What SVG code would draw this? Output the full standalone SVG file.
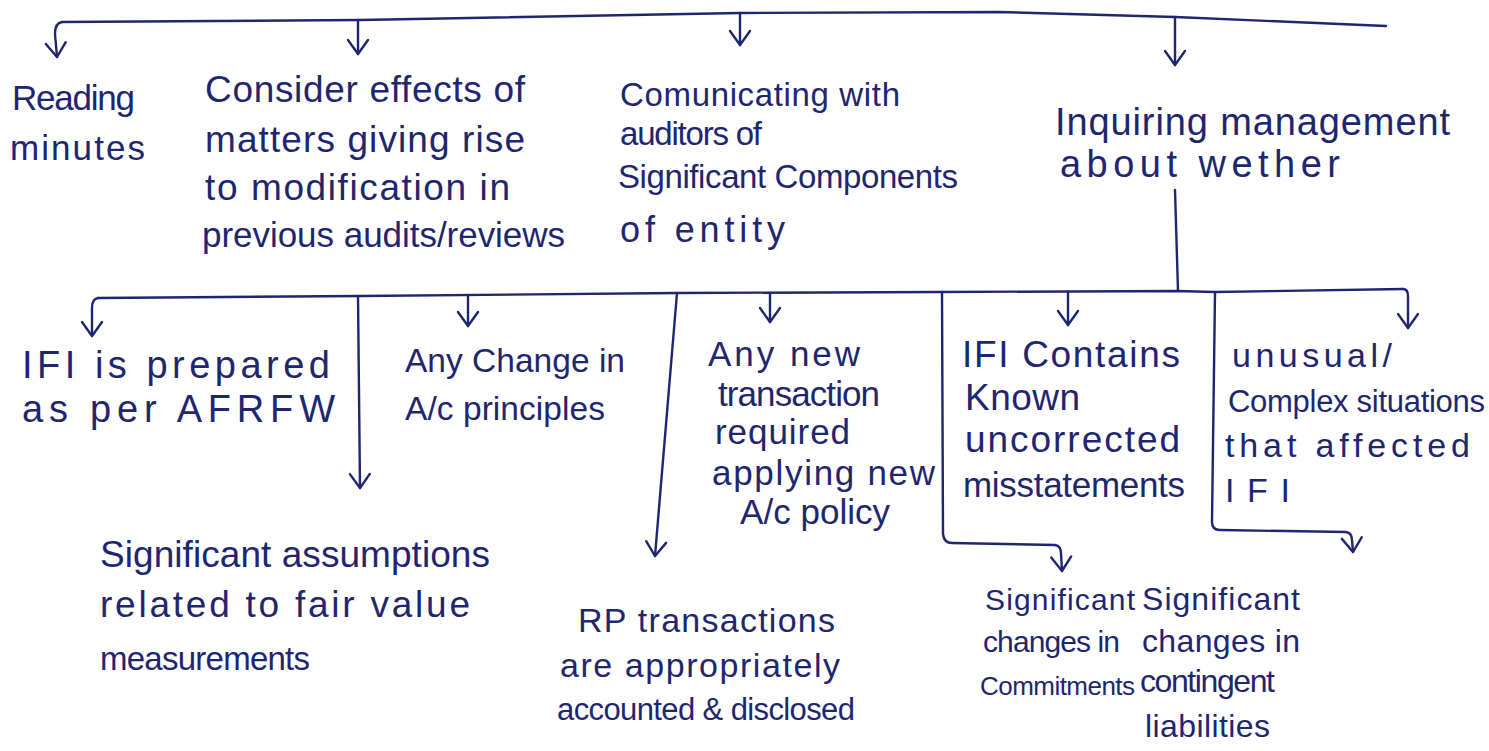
<svg xmlns="http://www.w3.org/2000/svg" width="1489" height="751" viewBox="0 0 1489 751">
<style>
.t{font-family:"Liberation Sans","DejaVu Sans",sans-serif;fill:#1f2670}
.c{fill:none;stroke:#1f2670;stroke-width:2.4;stroke-linecap:round;stroke-linejoin:round}
</style>
<defs>
<marker id="ah" viewBox="-16 -12 19 24" markerWidth="19" markerHeight="24" refX="0" refY="0" markerUnits="userSpaceOnUse" orient="auto">
<path d="M -14 -10 L 0 0 L -14 10" fill="none" stroke="#1f2670" stroke-width="2.4" stroke-linecap="round" stroke-linejoin="round"/>
</marker>
</defs>
<rect width="1489" height="751" fill="#ffffff"/>
<g id="connectors">
<path class="c" d="M 62 22 L 360 20 L 740 13 L 1000 12 L 1175 17 L 1386 26"/>
<path class="c" d="M 62 22 Q 55 23 55 34 L 57 57" marker-end="url(#ah)"/>
<path class="c" d="M 358 20 L 358 54" marker-end="url(#ah)"/>
<path class="c" d="M 740 13 L 740 45" marker-end="url(#ah)"/>
<path class="c" d="M 1175 17 L 1175 65" marker-end="url(#ah)"/>
<path class="c" d="M 1175 190 L 1178 291"/>
<path class="c" d="M 98 298 L 360 296 L 677 293 L 940 292 L 1178 291 L 1215 292 L 1403 289"/>
<path class="c" d="M 98 298 Q 92 299 92 308 L 92 336" marker-end="url(#ah)"/>
<path class="c" d="M 358 296 L 360 488" marker-end="url(#ah)"/>
<path class="c" d="M 468 295 L 468 326" marker-end="url(#ah)"/>
<path class="c" d="M 677 293 L 655 556" marker-end="url(#ah)"/>
<path class="c" d="M 770 293 L 770 322" marker-end="url(#ah)"/>
<path class="c" d="M 942 292 L 943 534 Q 944 543 952 543 L 1055 545 Q 1061 546 1061 553 L 1062 571" marker-end="url(#ah)"/>
<path class="c" d="M 1068 292 L 1068 325" marker-end="url(#ah)"/>
<path class="c" d="M 1215 292 L 1212 522 Q 1212 530 1220 530 L 1346 532 Q 1352 533 1352 540 L 1353 552" marker-end="url(#ah)"/>
<path class="c" d="M 1403 289 Q 1408 289 1408 296 L 1408 328" marker-end="url(#ah)"/>
</g>
<g id="n-reading" font-size="35">
<text class="t" x="12" y="110" textLength="123">Reading</text>
<text class="t" x="10" y="160" textLength="135">minutes</text>
</g>
<g id="n-consider" font-size="37">
<text class="t" x="205" y="102" textLength="320">Consider effects of</text>
<text class="t" x="205" y="152" textLength="320">matters giving rise</text>
<text class="t" x="205" y="200" textLength="305">to modification in</text>
<text class="t" x="202" y="247" font-size="35" textLength="363">previous audits/reviews</text>
</g>
<g id="n-communicating" font-size="33">
<text class="t" x="620" y="106" textLength="280">Comunicating with</text>
<text class="t" x="620" y="145" textLength="142">auditors of</text>
<text class="t" x="618" y="188" textLength="340">Significant Components</text>
<text class="t" x="620" y="242" font-size="36" textLength="165">of entity</text>
</g>
<g id="n-inquiring" font-size="38">
<text class="t" x="1055" y="135" textLength="395">Inquiring management</text>
<text class="t" x="1060" y="177" textLength="280">about wether</text>
</g>
<g id="n-ifi-prepared" font-size="38">
<text class="t" x="22" y="378" textLength="308">IFI is prepared</text>
<text class="t" x="22" y="422" textLength="313">as per AFRFW</text>
</g>
<g id="n-change" font-size="33.5">
<text class="t" x="405" y="372" textLength="220">Any Change in</text>
<text class="t" x="405" y="420" textLength="200">A/c principles</text>
</g>
<g id="n-new-transaction" font-size="35">
<text class="t" x="708" y="366" textLength="152">Any new</text>
<text class="t" x="718" y="406" textLength="162">transaction</text>
<text class="t" x="715" y="444" textLength="135">required</text>
<text class="t" x="712" y="485" textLength="223">applying new</text>
<text class="t" x="740" y="524" textLength="150">A/c policy</text>
</g>
<g id="n-ifi-contains" font-size="37">
<text class="t" x="962" y="367" textLength="218">IFI Contains</text>
<text class="t" x="965" y="410" textLength="115">Known</text>
<text class="t" x="965" y="452" textLength="215">uncorrected</text>
<text class="t" x="963" y="497" font-size="35" textLength="222">misstatements</text>
</g>
<g id="n-unusual" font-size="34">
<text class="t" x="1232" y="367" textLength="160">unusual/</text>
<text class="t" x="1228" y="412" font-size="31" textLength="257">Complex situations</text>
<text class="t" x="1225" y="457" textLength="245">that affected</text>
<text class="t" x="1225" y="502" textLength="65">IFI</text>
</g>
<g id="n-assumptions" font-size="37">
<text class="t" x="100" y="567" textLength="390">Significant assumptions</text>
<text class="t" x="100" y="617" textLength="370">related to fair value</text>
<text class="t" x="100" y="670" font-size="33" textLength="210">measurements</text>
</g>
<g id="n-rp" font-size="34">
<text class="t" x="578" y="632" textLength="257">RP transactions</text>
<text class="t" x="560" y="677" textLength="280">are appropriately</text>
<text class="t" x="557" y="720" font-size="31" textLength="298">accounted &amp; disclosed</text>
</g>
<g id="n-commitments" font-size="30">
<text class="t" x="985" y="610" textLength="150">Significant</text>
<text class="t" x="983" y="652" textLength="137">changes in</text>
<text class="t" x="980" y="695" font-size="26" textLength="155">Commitments</text>
</g>
<g id="n-contingent" font-size="32">
<text class="t" x="1142" y="610" textLength="158">Significant</text>
<text class="t" x="1142" y="652" textLength="158">changes in</text>
<text class="t" x="1140" y="692" textLength="135">contingent</text>
<text class="t" x="1145" y="737" textLength="125">liabilities</text>
</g>
</svg>
